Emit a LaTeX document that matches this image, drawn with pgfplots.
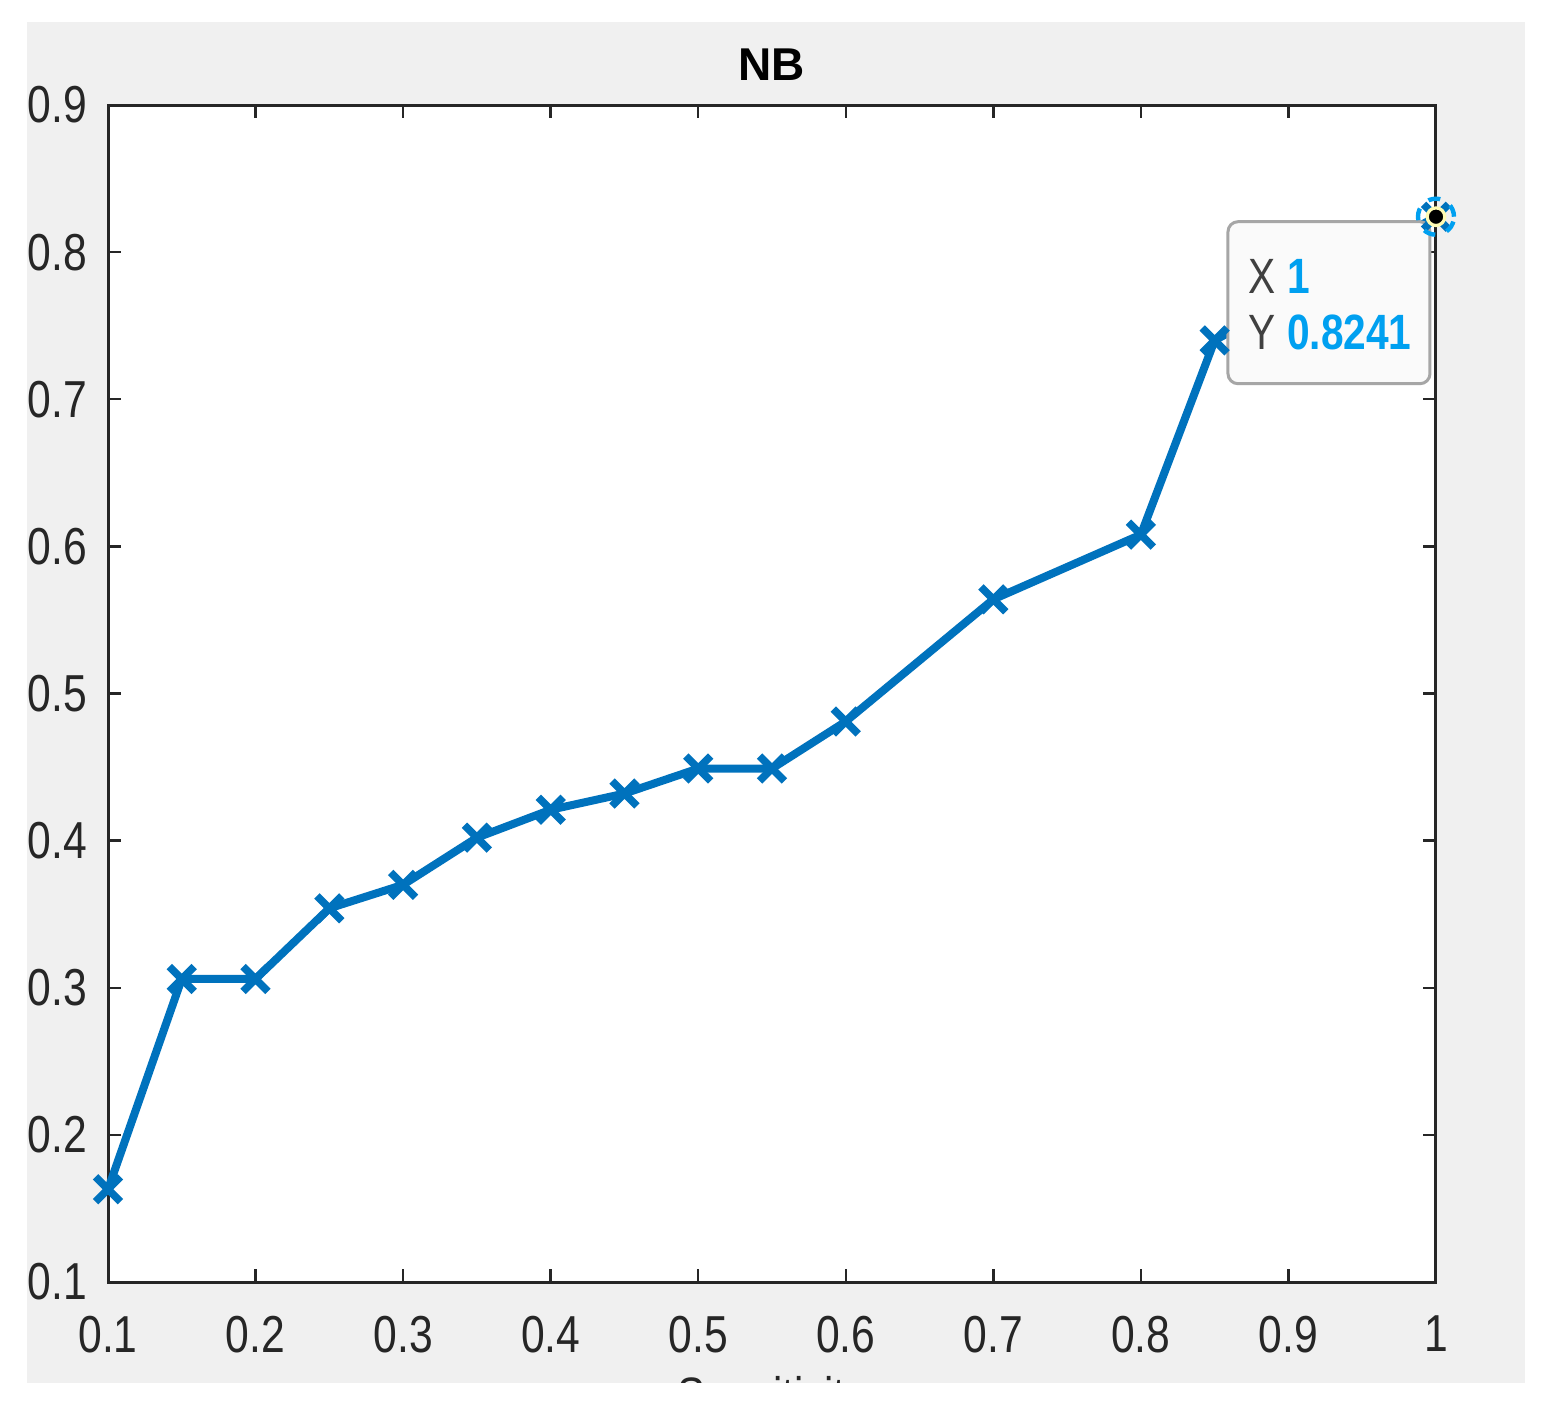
\documentclass[border=0pt]{standalone}
\usepackage{fontspec}
\setmainfont{Liberation Sans}
\newfontfamily\narrowfont{Liberation Sans}[FakeStretch=0.82]
\usepackage{pgfplots}
\pgfplotsset{compat=1.18}
\definecolor{mblue}{RGB}{0,114,189}
\definecolor{tipblue}{RGB}{0,160,240}
\definecolor{figgray}{RGB}{240,240,240}
\definecolor{axgray}{RGB}{38,38,38}
\begin{document}
\begin{tikzpicture}
% figure background (1px = 0.25pt)
\fill[white] (-27pt,-32.75pt) rectangle (360.5pt,320.5pt);
\fill[figgray] (-20.25pt,-25.25pt) rectangle (354.25pt,315pt);
\begin{axis}[at={(0,0)}, anchor=south west, scale only axis,
   width=332pt, height=294.25pt,
   xmin=0.1, xmax=1, ymin=0.1, ymax=0.9,
   xtick={0.1,0.2,0.3,0.4,0.5,0.6,0.7,0.8,0.9,1},
   xticklabels={0.1,0.2,0.3,0.4,0.5,0.6,0.7,0.8,0.9,1},
   ytick={0.1,0.2,0.3,0.4,0.5,0.6,0.7,0.8,0.9},
   yticklabels={0.1,0.2,0.3,0.4,0.5,0.6,0.7,0.8,0.9},
   axis background/.style={fill=white},
   axis line style={axgray, line width=0.75pt},
   tick align=inside, major tick length=3.25pt,
   tick style={axgray, line width=0.6pt},
   tick label style={font=\narrowfont\fontsize{13}{14}\selectfont, text=axgray},
   xticklabel style={anchor=north, inner sep=0pt, yshift=-8.25pt},
   yticklabel style={anchor=east, inner sep=0pt, xshift=-5pt},
   title={NB},
   title style={at={(0.5,1)}, anchor=base, inner sep=0pt, yshift=0.25pt, font=\bfseries\fontsize{11.5}{13}\selectfont},
   xlabel={Sensitivity},
   xlabel style={at={(0.5,0)}, anchor=north, inner sep=0pt, yshift=-23.5pt, font=\narrowfont\fontsize{12.8}{14}\selectfont, text=axgray},
   clip=false]
\addplot[mblue, line width=2pt, mark=x, mark size=4.4pt, mark options={line width=1.9pt}]
 coordinates {(0.10,0.163) (0.15,0.306) (0.20,0.306) (0.25,0.354) (0.30,0.370)
   (0.35,0.402) (0.40,0.421) (0.45,0.432) (0.50,0.449) (0.55,0.449)
   (0.60,0.481) (0.70,0.564) (0.80,0.608) (0.85,0.740) (1.00,0.8241)};
% data tip marker
\addplot[only marks, mark=o, mark size=4.5pt, mark options={tipblue, dashed, line width=1.1pt}] coordinates {(1,0.8241)};
\addplot[only marks, mark=*, mark size=2.2pt, mark options={fill=black, draw=yellow!30, line width=0.8pt}] coordinates {(1,0.8241)};
% data tip box
\draw[gray!70, fill=black!2, rounded corners=2.5pt, line width=0.75pt]
  ([xshift=-1.5pt,yshift=-1.25pt]axis cs:1,0.8241) rectangle ++(-50.5pt,-40.5pt);
\node[anchor=base west, inner sep=0pt, font=\narrowfont\fontsize{12.4}{14}\selectfont, text=black!75]
  at ([xshift=-47pt,yshift=-19.25pt]axis cs:1,0.8241) {X {\bfseries\color{tipblue}1}};
\node[anchor=base west, inner sep=0pt, font=\narrowfont\fontsize{12.4}{14}\selectfont, text=black!75]
  at ([xshift=-47pt,yshift=-33.25pt]axis cs:1,0.8241) {Y {\bfseries\color{tipblue}0.8241}};
\end{axis}
% cut off the x label like the reference
\fill[white] (-27pt,-40pt) rectangle (360.5pt,-25.25pt);
\pgfresetboundingbox
\path[use as bounding box] (-27pt,-32.75pt) rectangle (360.5pt,320.5pt);
\end{tikzpicture}
\end{document}
